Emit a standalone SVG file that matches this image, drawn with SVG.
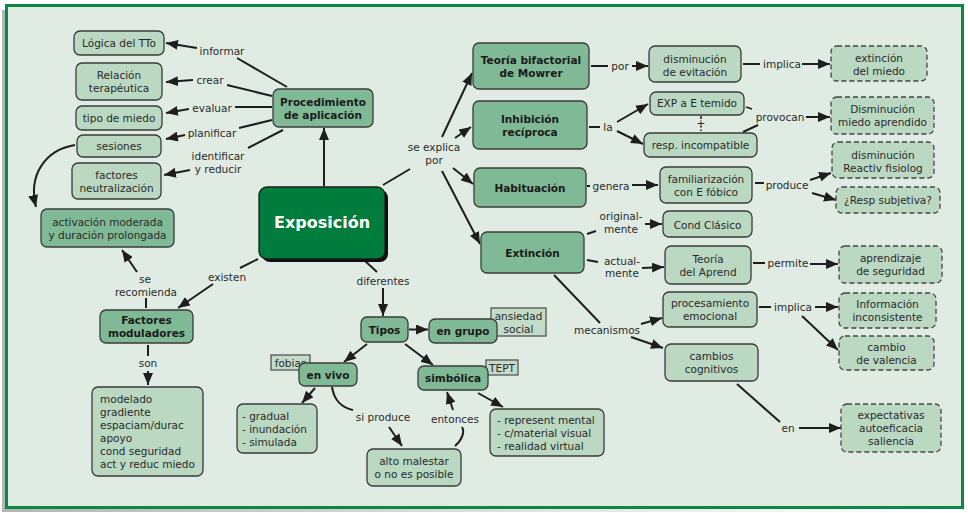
<svg xmlns="http://www.w3.org/2000/svg" width="968" height="513" viewBox="0 0 968 513">
<defs>
<marker id="ah" markerUnits="userSpaceOnUse" markerWidth="12" markerHeight="10" refX="12" refY="5" orient="auto">
<path d="M0,0 L12,5 L0,10 z" fill="#1e1e1e"/>
</marker>
<linearGradient id="sh" x1="0" y1="0" x2="1" y2="0">
<stop offset="0" stop-color="#b5b5b5"/>
<stop offset="0.6" stop-color="#e6e6e6"/>
<stop offset="1" stop-color="#ffffff"/>
</linearGradient>
<style>
text{font-family:"DejaVu Sans","Verdana",sans-serif;font-size:10.5px;fill:#2a2a2a;dominant-baseline:central;text-anchor:middle}
.b{font-weight:bold;fill:#1a1a1a}
.l{text-anchor:start}
.med{fill:#80b995;stroke:#3a3a3a;stroke-width:1.3}
.lt{fill:#bad8c2;stroke:#3a3a3a;stroke-width:1.3}
.dash{fill:#bad8c2;stroke:#444;stroke-width:1.3;stroke-dasharray:5 3}
.tag{fill:#c3dbc9;stroke:#555;stroke-width:1.3}
.c line,.c path{stroke:#1e1e1e;stroke-width:2;fill:none}
.a{marker-end:url(#ah)}
</style>
</defs>
<rect x="0" y="0" width="968" height="513" fill="#ffffff"/>
<rect x="2" y="10" width="958" height="502" fill="url(#sh)"/>
<rect x="6.5" y="5.5" width="956" height="502" fill="#e0ece3" stroke="#0b8843" stroke-width="3"/>

<g id="connectors" class="c">
<line x1="287" y1="87" x2="237" y2="58"/>
<line class="a" x1="197" y1="48" x2="166" y2="43"/>
<line x1="272" y1="96" x2="227" y2="85"/>
<line class="a" x1="193" y1="80" x2="166" y2="82"/>
<line x1="272" y1="107" x2="235" y2="107"/>
<line class="a" x1="189" y1="109" x2="166" y2="113"/>
<line x1="272" y1="120" x2="239" y2="128"/>
<line class="a" x1="185" y1="135" x2="166" y2="139"/>
<line x1="283" y1="130" x2="248" y2="148"/>
<line class="a" x1="190" y1="170" x2="164" y2="175"/>
<line class="a" x1="324" y1="186" x2="324" y2="128"/>
<path class="a" d="M75,145 C45,150 28,175 36,207"/>
<line x1="258" y1="259" x2="240" y2="268"/>
<line class="a" x1="213" y1="284" x2="178" y2="308"/>
<line x1="146" y1="308" x2="146" y2="298"/>
<line class="a" x1="137" y1="272" x2="122" y2="250"/>
<line x1="148" y1="345" x2="148" y2="356"/>
<line class="a" x1="148" y1="371" x2="148" y2="385"/>
<line x1="364" y1="260" x2="377" y2="272"/>
<line class="a" x1="383" y1="288" x2="383" y2="316"/>
<line class="a" x1="409" y1="329.5" x2="428" y2="329.5"/>
<line class="a" x1="367" y1="344" x2="344" y2="362"/>
<line class="a" x1="405" y1="344" x2="433" y2="365"/>
<line class="a" x1="478" y1="393" x2="503" y2="407"/>
<line class="a" x1="315" y1="388" x2="302" y2="403"/>
<path d="M332,387 C334,400 342,408 353,410"/>
<line class="a" x1="389" y1="427" x2="402" y2="446"/>
<path d="M455,446 C462,440 465,432 462,427"/>
<line class="a" x1="453" y1="410" x2="447" y2="392"/>
<line x1="383" y1="185" x2="410" y2="169"/>
<line class="a" x1="442" y1="137" x2="472" y2="73"/>
<line class="a" x1="455" y1="138" x2="471" y2="127"/>
<line class="a" x1="453" y1="168" x2="473" y2="184"/>
<line class="a" x1="442" y1="171" x2="480" y2="244"/>
<line x1="591" y1="66" x2="608" y2="66"/>
<line class="a" x1="632" y1="66" x2="648" y2="66"/>
<line x1="743" y1="64" x2="760" y2="64"/>
<line class="a" x1="802" y1="64" x2="830" y2="64"/>
<line x1="589" y1="127" x2="600" y2="127"/>
<line class="a" x1="617" y1="122" x2="648" y2="104"/>
<line class="a" x1="617" y1="131" x2="643" y2="144"/>
<line x1="701" y1="116" x2="701" y2="119" style="stroke-width:1.5"/>
<line x1="701" y1="126" x2="701" y2="131" style="stroke-width:1.5;stroke-dasharray:1.5 2"/>
<line x1="746" y1="107" x2="752" y2="109" style="stroke-width:1.5"/>
<line x1="743" y1="132" x2="758" y2="125"/>
<line class="a" x1="806" y1="117" x2="830" y2="117"/>
<line x1="587" y1="186" x2="590" y2="186"/>
<line class="a" x1="632" y1="185" x2="658" y2="185"/>
<line x1="755" y1="183" x2="764" y2="183"/>
<line class="a" x1="810" y1="180" x2="831" y2="173"/>
<line class="a" x1="812" y1="193" x2="836" y2="200"/>
<line x1="587" y1="234" x2="596" y2="231"/>
<line class="a" x1="645" y1="224" x2="662" y2="224"/>
<line x1="587" y1="260" x2="598" y2="262"/>
<line class="a" x1="642" y1="268" x2="664" y2="267"/>
<line x1="753" y1="263" x2="765" y2="263"/>
<line class="a" x1="810" y1="264" x2="838" y2="264"/>
<line x1="554" y1="275" x2="600" y2="323"/>
<line class="a" x1="641" y1="324" x2="662" y2="318"/>
<line class="a" x1="631" y1="337" x2="663" y2="348"/>
<line x1="759" y1="307" x2="771" y2="307"/>
<line class="a" x1="815" y1="307" x2="838" y2="307"/>
<line class="a" x1="802" y1="316" x2="838" y2="350"/>
<line x1="737" y1="384" x2="780" y2="422"/>
<line class="a" x1="799" y1="428" x2="841" y2="428"/>
</g>

<g id="labels">
<text x="222" y="51">informar</text>
<text x="210" y="80">crear</text>
<text x="212" y="107.5">evaluar</text>
<text x="212" y="133">planificar</text>
<text x="218" y="156">identificar</text>
<text x="218" y="169">y reducir</text>
<text x="227" y="277">existen</text>
<text x="145" y="279">se</text>
<text x="146" y="292">recomienda</text>
<text x="148" y="363">son</text>
<text x="383" y="281">diferentes</text>
<text x="383" y="417">si produce</text>
<text x="455" y="419">entonces</text>
<text x="434" y="147">se explica</text>
<text x="434" y="160">por</text>
<text x="620" y="66">por</text>
<text x="782" y="64">implica</text>
<text x="608" y="127">la</text>
<text x="701" y="122.5">+</text>
<text x="780" y="117">provocan</text>
<text x="611" y="186">genera</text>
<text x="787" y="184.5">produce</text>
<text x="621" y="216">original-</text>
<text x="621" y="229">mente</text>
<text x="622" y="261">actual-</text>
<text x="622" y="273">mente</text>
<text x="788" y="263">permite</text>
<text x="607" y="330">mecanismos</text>
<text x="793" y="307">implica</text>
<text x="788" y="428">en</text>
</g>

<g id="n-logica"><rect class="lt" x="74" y="31" width="90" height="24" rx="6"/><text x="119" y="43">Lógica del TTo</text></g>
<g id="n-relacion"><rect class="lt" x="76" y="63" width="86" height="37" rx="6"/><text x="119" y="75">Relación</text><text x="119" y="88">terapéutica</text></g>
<g id="n-tipo"><rect class="lt" x="76" y="106" width="86" height="24" rx="6"/><text x="119" y="118">tipo de miedo</text></g>
<g id="n-sesiones"><rect class="lt" x="77" y="135" width="84" height="22" rx="6"/><text x="119" y="146">sesiones</text></g>
<g id="n-factores"><rect class="lt" x="72" y="163" width="89" height="36" rx="6"/><text x="116.5" y="174.5">factores</text><text x="116.5" y="187.5">neutralización</text></g>
<g id="n-activacion"><rect class="med" x="41" y="209" width="133" height="38" rx="6"/><text x="107.5" y="221.5">activación moderada</text><text x="107.5" y="234.5">y duración prolongada</text></g>
<g id="n-procedimiento"><rect class="med" x="273" y="89" width="100" height="38" rx="6"/><text class="b" x="323" y="101.5">Procedimiento</text><text class="b" x="323" y="114.5">de aplicación</text></g>
<g id="n-exposicion"><rect x="262" y="190" width="126" height="72" rx="8" fill="#111"/><rect x="259" y="187" width="126" height="72" rx="8" fill="#007c3d" stroke="#1a1a1a" stroke-width="1.3"/><text x="322" y="222" style="font-size:16px;font-weight:bold;fill:#ffffff">Exposición</text></g>
<g id="n-factmod"><rect class="med" x="100" y="310" width="93" height="33" rx="6"/><text class="b" x="146.5" y="320">Factores</text><text class="b" x="146.5" y="333">moduladores</text></g>
<g id="n-modlist"><rect class="lt" x="92" y="387" width="111" height="89" rx="6"/>
<text class="l" x="100" y="399">modelado</text><text class="l" x="100" y="412">gradiente</text><text class="l" x="100" y="425">espaciam/durac</text><text class="l" x="100" y="438">apoyo</text><text class="l" x="100" y="451">cond seguridad</text><text class="l" x="100" y="464">act y reduc miedo</text></g>
<g id="n-tipos"><rect class="med" x="361" y="317" width="47" height="25" rx="6"/><text class="b" x="384.5" y="329.5">Tipos</text></g>
<g id="n-ansiedad"><rect class="tag" x="491" y="308" width="55" height="28"/><text x="518.5" y="315.5">ansiedad</text><text x="518.5" y="328.5">social</text></g>
<g id="n-engrupo"><rect class="med" x="429" y="319" width="68" height="24" rx="6"/><text class="b" x="463" y="331">en grupo</text></g>
<g id="n-fobias"><rect class="tag" x="271" y="355" width="39" height="15"/><text x="290.5" y="362.5">fobias</text></g>
<g id="n-envivo"><rect class="med" x="299" y="363" width="58" height="23" rx="6"/><text class="b" x="328" y="374.5">en vivo</text></g>
<g id="n-tept"><rect class="tag" x="486" y="360" width="32" height="15"/><text x="502" y="367.5">TEPT</text></g>
<g id="n-simbolica"><rect class="med" x="418" y="366" width="70" height="24" rx="6"/><text class="b" x="453" y="378">simbólica</text></g>
<g id="n-envivolist"><rect class="lt" x="237" y="404" width="80" height="49" rx="6"/><text class="l" x="242" y="416">- gradual</text><text class="l" x="242" y="429">- inundación</text><text class="l" x="242" y="442">- simulada</text></g>
<g id="n-simblist"><rect class="lt" x="490" y="409" width="114" height="47" rx="6"/><text class="l" x="497" y="420">- represent mental</text><text class="l" x="497" y="433">- c/material visual</text><text class="l" x="497" y="446">- realidad virtual</text></g>
<g id="n-alto"><rect class="lt" x="367" y="449" width="94" height="37" rx="6"/><text x="414" y="461">alto malestar</text><text x="414" y="474">o no es posible</text></g>

<g id="n-mowrer"><rect class="med" x="473" y="43" width="116" height="46" rx="6"/><text class="b" x="531" y="60">Teoría bifactorial</text><text class="b" x="531" y="73">de Mowrer</text></g>
<g id="n-inhibicion"><rect class="med" x="473" y="101" width="114" height="48" rx="6"/><text class="b" x="530" y="119">Inhibición</text><text class="b" x="530" y="132">recíproca</text></g>
<g id="n-habituacion"><rect class="med" x="474" y="168" width="112" height="39" rx="6"/><text class="b" x="530" y="187.5">Habituación</text></g>
<g id="n-extincion"><rect class="med" x="481" y="232" width="103" height="41" rx="6"/><text class="b" x="532.5" y="252.5">Extinción</text></g>
<g id="n-dismevit"><rect class="lt" x="649" y="46" width="92" height="36" rx="6"/><text x="695" y="58.5">disminución</text><text x="695" y="71.5">de evitación</text></g>
<g id="n-extmiedo"><rect class="dash" x="831" y="46" width="96" height="35" rx="6"/><text x="879" y="58">extinción</text><text x="879" y="71">del miedo</text></g>
<g id="n-exp"><rect class="lt" x="650" y="92" width="94" height="23" rx="6"/><text x="697" y="103">EXP a E temido</text></g>
<g id="n-resp"><rect class="lt" x="644" y="133" width="113" height="24" rx="6"/><text x="700.5" y="145">resp. incompatible</text></g>
<g id="n-dismmiedo"><rect class="dash" x="831" y="97" width="103" height="37" rx="6"/><text x="882.5" y="109">Disminución</text><text x="882.5" y="122">miedo aprendido</text></g>
<g id="n-familiar"><rect class="lt" x="660" y="167" width="92" height="36" rx="6"/><text x="706" y="178.5">familiarización</text><text x="706" y="191.5">con E fóbico</text></g>
<g id="n-dismreac"><rect class="dash" x="832" y="142" width="102" height="36" rx="6"/><text x="883" y="154.5">disminución</text><text x="883" y="167.5">Reactiv fisiolog</text></g>
<g id="n-respsubj"><rect class="dash" x="836" y="187" width="104" height="26" rx="6"/><text x="888" y="200">¿Resp subjetiva?</text></g>
<g id="n-cond"><rect class="lt" x="663" y="211" width="89" height="26" rx="6"/><text x="707.5" y="224.5">Cond Clásico</text></g>
<g id="n-teoria"><rect class="lt" x="665" y="246" width="86" height="38" rx="6"/><text x="708" y="258.5">Teoría</text><text x="708" y="271.5">del Aprend</text></g>
<g id="n-aprseg"><rect class="dash" x="839" y="246" width="103" height="37" rx="6"/><text x="890.5" y="257.5">aprendizaje</text><text x="890.5" y="270.5">de seguridad</text></g>
<g id="n-procesamiento"><rect class="lt" x="663" y="292" width="94" height="35" rx="6"/><text x="710" y="303">procesamiento</text><text x="710" y="316">emocional</text></g>
<g id="n-cambios"><rect class="lt" x="665" y="344" width="93" height="37" rx="6"/><text x="711.5" y="356">cambios</text><text x="711.5" y="369">cognitivos</text></g>
<g id="n-infoinc"><rect class="dash" x="839" y="293" width="97" height="35" rx="6"/><text x="887.5" y="304">Información</text><text x="887.5" y="317">inconsistente</text></g>
<g id="n-valencia"><rect class="dash" x="839" y="336" width="95" height="34" rx="6"/><text x="886.5" y="346.5">cambio</text><text x="886.5" y="359.5">de valencia</text></g>
<g id="n-expect"><rect class="dash" x="841" y="404" width="100" height="48" rx="6"/><text x="891" y="415">expectativas</text><text x="891" y="428">autoeficacia</text><text x="891" y="441">saliencia</text></g>
</svg>
